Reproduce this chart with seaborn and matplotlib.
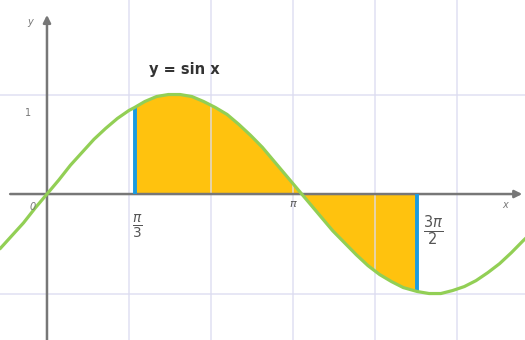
import numpy as np
import matplotlib
matplotlib.use("Agg")
import matplotlib.pyplot as plt
import seaborn as sns

# %% values (x in radians, y = sin x as drawn)
curve_x = [-0.60, -0.45, -0.30, -0.15, 0.00, 0.15, 0.30, 0.45, 0.60, 0.75, 0.90,
           1.047, 1.12, 1.25, 1.40, 1.55, 1.70, 1.85, 2.00, 2.15, 2.30, 2.45,
           2.60, 2.75, 2.90, 3.05, 3.20, 3.35, 3.50, 3.65, 3.80, 3.95, 4.10,
           4.25, 4.40, 4.55, 4.73, 4.88, 5.03, 5.18, 5.33, 5.48, 5.63, 5.78,
           5.93, 6.08, 6.12]
curve_y = [-0.55, -0.42, -0.29, -0.14, 0.00, 0.14, 0.29, 0.42, 0.55, 0.66, 0.76,
           0.84, 0.87, 0.93, 0.98, 1.00, 1.00, 0.98, 0.93, 0.87, 0.80, 0.70,
           0.59, 0.47, 0.33, 0.19, 0.05, -0.09, -0.23, -0.37, -0.49, -0.61, -0.72,
           -0.81, -0.88, -0.94, -0.98, -1.00, -1.00, -0.97, -0.93, -0.87, -0.79, -0.70,
           -0.59, -0.47, -0.44]
shade_from = 1.12   # pi/3 edge as drawn
shade_to = 4.73     # 3pi/2 edge as drawn
grid_steps = [1, 2, 3, 4, 5]      # vertical grid at k*pi/3
grid_levels = [-1, 1]

# %% style
sns.set_style("white")
plt.rcParams["font.family"] = ["DejaVu Sans"]

fig = plt.figure(figsize=(5.25, 3.4), dpi=100)
ax = fig.add_axes([0, 0, 1, 1])
ax.set_xlim(-0.60, 6.105)
ax.set_ylim(-1.467, 1.95)
for s in ax.spines.values():
    s.set_visible(False)
ax.set_xticks([])
ax.set_yticks([])

# %% grid
grid_col = "#dcdcf0"
for k in grid_steps:
    ax.axvline(k * np.pi / 3, color=grid_col, lw=1.2, alpha=0.8, zorder=2.5)
for g in grid_levels:
    ax.axhline(g, color=grid_col, lw=1.2, alpha=0.8, zorder=2.5)

# %% shaded area between curve and x axis
cx = np.array(curve_x)
cy = np.array(curve_y)
mask = (cx >= shade_from) & (cx <= shade_to)
ax.fill_between(cx[mask], cy[mask], 0, color="#FFC20E", lw=0, zorder=1)

# blue edges
ax.vlines([shade_from, shade_to], [0, 0], [cy[cx == shade_from][0], cy[cx == shade_to][0]],
          color="#1a9be0", lw=2.8, zorder=2.8)

# axes with arrows
ax.annotate("", xy=(6.07, 0), xytext=(-0.47, 0),
            arrowprops=dict(arrowstyle="-|>", color="#777777", lw=1.8,
                            mutation_scale=11, shrinkA=0, shrinkB=0), zorder=2.6)
ax.annotate("", xy=(0, 1.80), xytext=(0, -1.50),
            arrowprops=dict(arrowstyle="-|>", color="#777777", lw=1.8,
                            mutation_scale=11, shrinkA=0, shrinkB=0), zorder=2.6)

# %% sine curve
sns.lineplot(x=curve_x, y=curve_y, sort=False, estimator=None,
             color="#92cf55", lw=2.3, ax=ax, zorder=3)

# %% labels
lab_col = "#555555"
ax.text(-0.22, 1.73, "y", fontsize=7, color="#777777", style="italic", ha="center", va="center")
ax.text(-0.24, 0.81, "1", fontsize=7, color="#777777", ha="center", va="center")
ax.text(-0.18, -0.13, "0", fontsize=7, color="#777777", style="italic", ha="center", va="center")
ax.text(5.85, -0.11, "x", fontsize=7, color="#777777", style="italic", ha="center", va="center")
ax.text(1.16, -0.33, r"$\frac{\pi}{3}$", fontsize=14, color=lab_col, ha="center", va="center")
ax.text(3.15, -0.10, r"$\pi$", fontsize=8, color=lab_col, ha="center", va="center")
ax.text(4.93, -0.37, r"$\frac{3\pi}{2}$", fontsize=15, color=lab_col, ha="center", va="center")
ax.text(1.76, 1.25, "y = sin x", fontsize=10.5, fontweight="bold", color="#333333",
        ha="center", va="center")

fig.savefig("out.png", dpi=100)
